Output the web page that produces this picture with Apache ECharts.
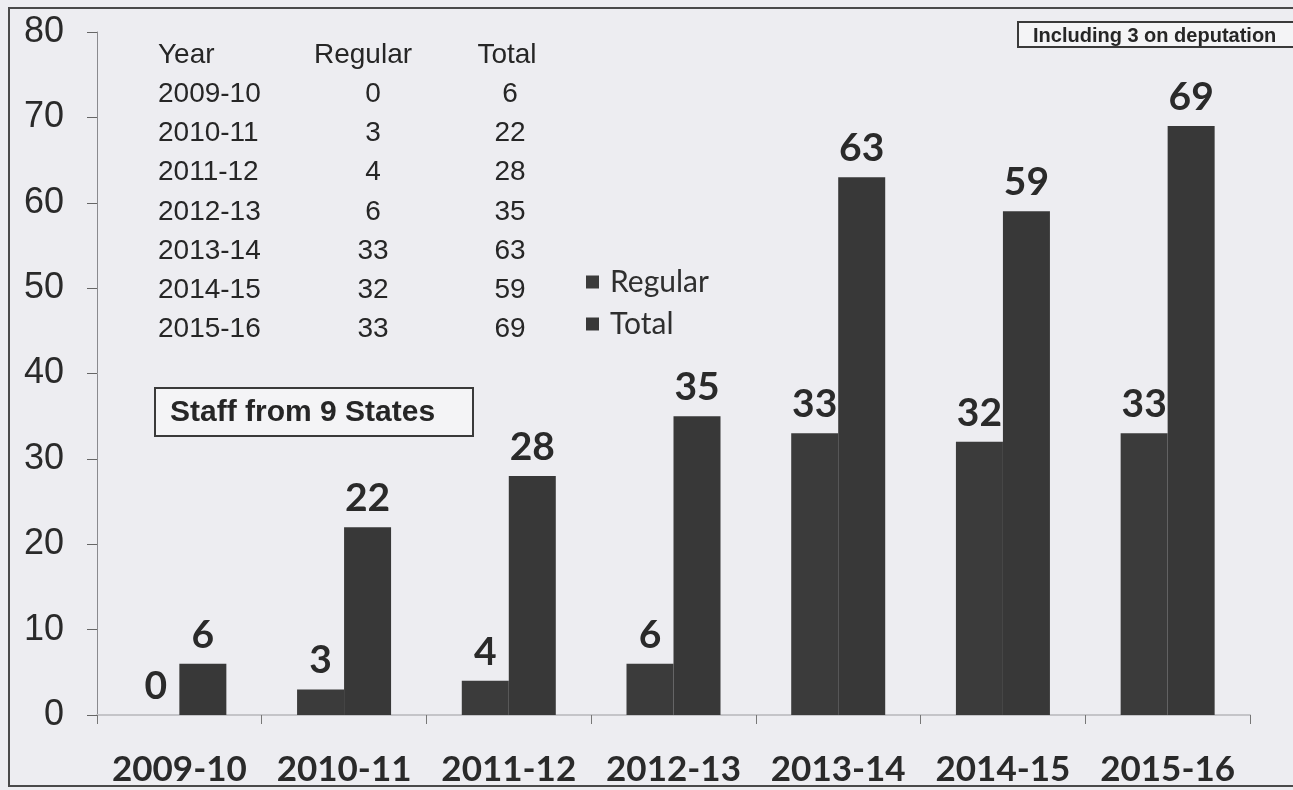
<!DOCTYPE html>
<html>
<head>
<meta charset="utf-8">
<style>
html, body { margin: 0; padding: 0; background: #ededf1; }
#chart { width: 1293px; height: 790px; }
</style>
<script src="https://cdn.jsdelivr.net/npm/echarts@6/dist/echarts.min.js"></script>
</head>
<body>
<div id="chart"></div>
<script>
// data
var years = ['2009-10', '2010-11', '2011-12', '2012-13', '2013-14', '2014-15', '2015-16'];
var regular = [0, 3, 4, 6, 33, 32, 33];
var total = [6, 22, 28, 35, 63, 59, 69];
var tableHead = ['Year', 'Regular', 'Total'];

var chart = echarts.init(document.getElementById('chart'));

// small table in the top-left, built from the same arrays
var tableText = [];
var rowY = 55;
var rowStep = 39.2;
var headX = [158, 363, 507];
var cellX = [158, 373, 510];
function cellText(txt, x, y, i) {
	var al = i === 0 ? 'left' : 'center';
	return {
		type: 'text', x: x, y: y,
		style: {
			text: txt, fill: '#262626', font: '28px "Liberation Sans", Arial, sans-serif',
			align: al, textAlign: al, verticalAlign: 'middle', textVerticalAlign: 'middle'
		}
	};
}
tableHead.forEach(function (h, i) {
	tableText.push(cellText(h, headX[i], rowY, i));
});
years.forEach(function (y, k) {
	var ty = rowY + rowStep * (k + 1);
	[y, String(regular[k]), String(total[k])].forEach(function (c, i) {
		tableText.push(cellText(c, cellX[i], ty, i));
	});
});

var labelStyle = {
	show: true,
	position: 'top',
	distance: 9,
	color: '#2a2a2a',
	fontFamily: 'Lato, "Open Sans", sans-serif',
	fontWeight: 'bold',
	fontSize: 39
};

var option = {
	backgroundColor: '#ededf1',
	animation: false,
	color: ['#3b3b3b', '#383838'],
	grid: {
		left: 97,
		right: 43,
		top: 32,
		bottom: 75
	},
	legend: {
		orient: 'vertical',
		left: 581,
		top: 262,
		itemWidth: 13,
		itemHeight: 13,
		itemGap: 12,
		icon: 'rect',
		textStyle: {
			fontFamily: 'Lato, "Open Sans", sans-serif',
			fontSize: 30,
			color: '#2f2f2f',
			padding: [0, 0, 0, 6]
		},
		data: ['Regular', 'Total']
	},
	xAxis: {
		type: 'category',
		data: years,
		axisLine: { show: true, lineStyle: { color: '#c4c4c8', width: 2 } },
		axisTick: { show: true, interval: 0, length: 9, lineStyle: { color: '#777' } },
		axisLabel: {
			interval: 0,
			color: '#2a2a2a',
			fontFamily: 'Lato, "Open Sans", sans-serif',
			fontWeight: 'bold',
			fontSize: 35,
			margin: 37
		}
	},
	yAxis: {
		type: 'value',
		min: 0,
		max: 80,
		interval: 10,
		axisLine: { show: true, lineStyle: { color: '#8a8a8e', width: 1 } },
		axisTick: { show: true, length: 10, lineStyle: { color: '#666' } },
		splitLine: { show: false },
		axisLabel: {
			color: '#2a2a2a',
			fontFamily: '"Liberation Sans", Arial, sans-serif',
			fontSize: 36,
			margin: 33
		}
	},
	series: [{
		name: 'Regular',
		type: 'bar',
		data: regular,
		barWidth: 47,
		barGap: '0%',
		label: labelStyle
	}, {
		name: 'Total',
		type: 'bar',
		data: total,
		barWidth: 47,
		barGap: '0%',
		label: labelStyle
	}],
	graphic: [{
		// scan frame
		type: 'rect', silent: true,
		shape: { x: 9, y: 8, width: 1310, height: 778 },
		style: { fill: 'none', stroke: '#4a4a4a', lineWidth: 2 }
	}, {
		type: 'rect',
		shape: { x: 155, y: 388, width: 318, height: 48 },
		style: { fill: '#f4f4f6', stroke: '#3a3a3a', lineWidth: 2 }
	}, {
		type: 'text', x: 170, y: 413,
		style: {
			text: 'Staff from 9 States', fill: '#262626', font: 'bold 30px "Liberation Sans", Arial, sans-serif',
			verticalAlign: 'middle', textVerticalAlign: 'middle'
		}
	}, {
		type: 'rect',
		shape: { x: 1018, y: 22, width: 280, height: 25 },
		style: { fill: '#f4f4f6', stroke: '#3a3a3a', lineWidth: 2 }
	}, {
		type: 'text', x: 1033, y: 36,
		style: {
			text: 'Including 3 on deputation', fill: '#262626', font: 'bold 20px "Liberation Sans", Arial, sans-serif',
			verticalAlign: 'middle', textVerticalAlign: 'middle'
		}
	}].concat(tableText)
};

chart.setOption(option);
</script>
</body>
</html>
